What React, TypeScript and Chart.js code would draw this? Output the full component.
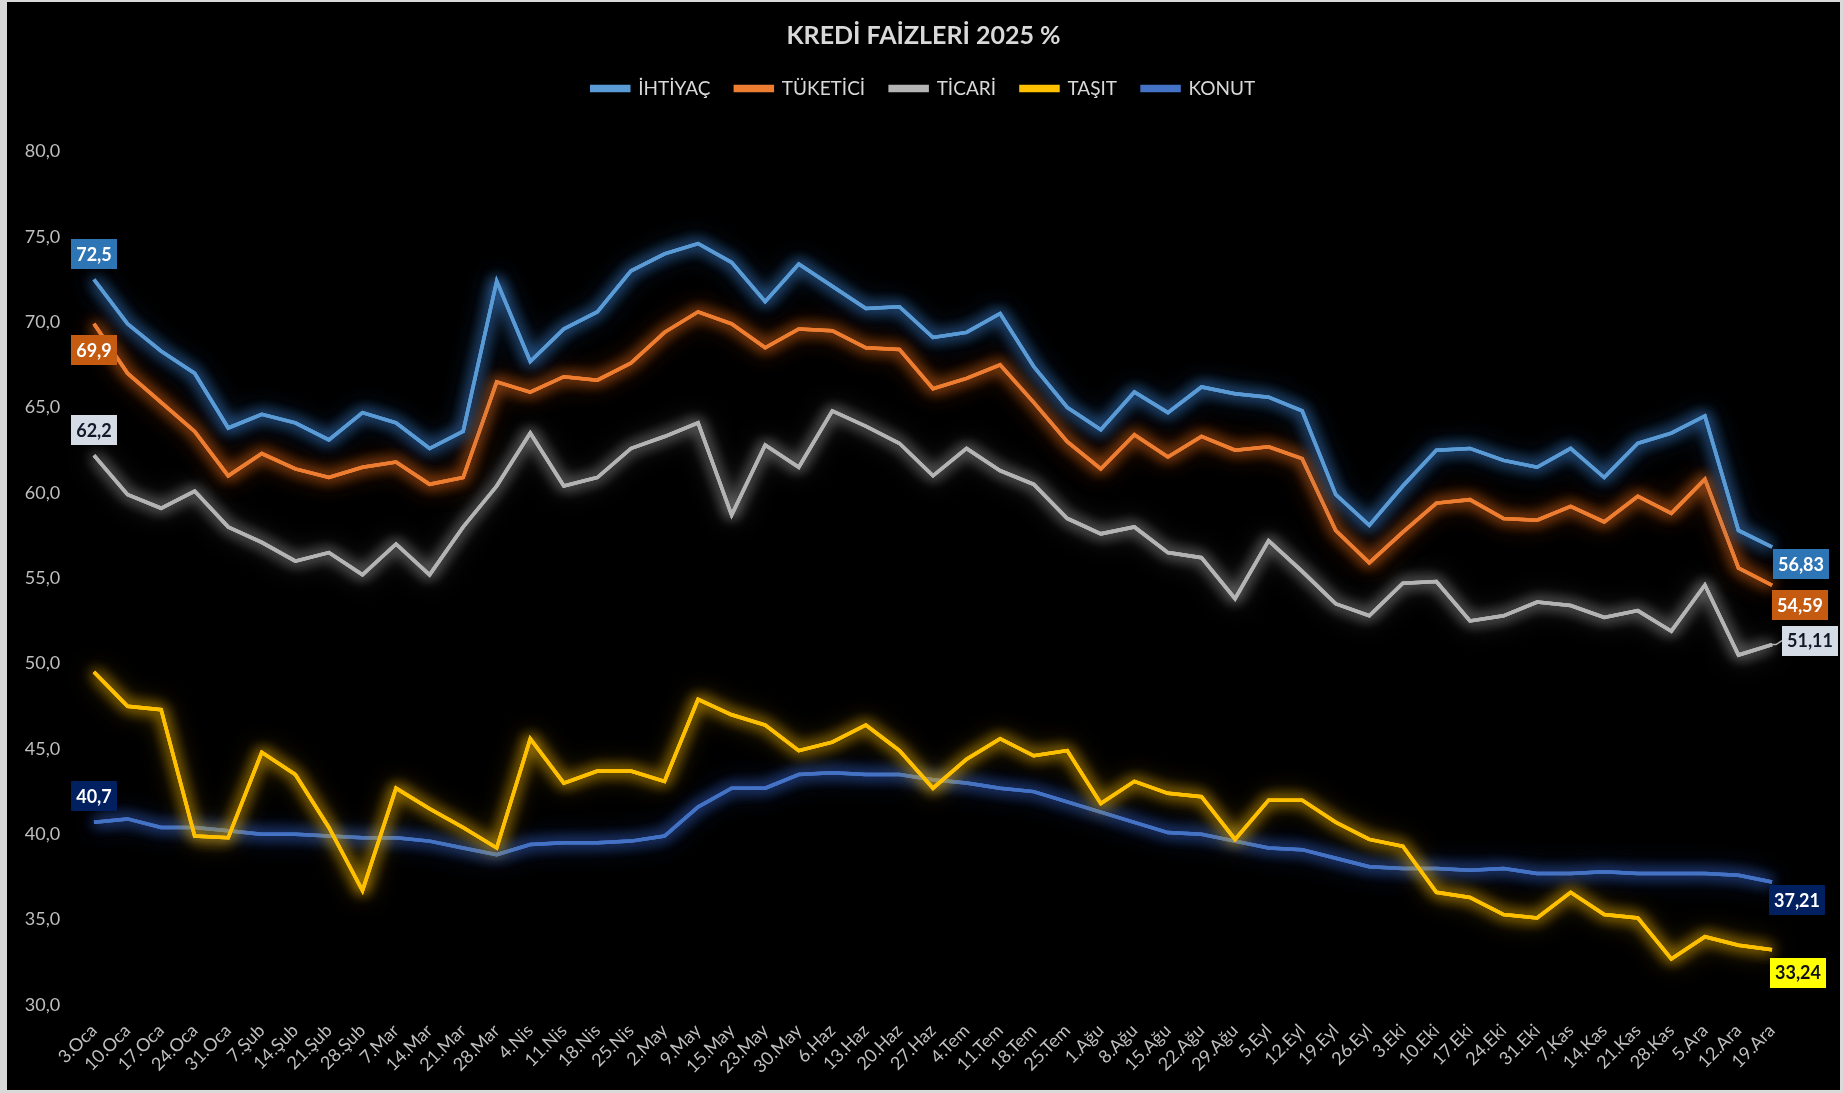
import { useEffect, useRef } from 'react';
import { Chart, registerables } from 'chart.js';

Chart.register(...registerables);

// ---------- DATA ----------
const categories = [
  '3.Oca', '10.Oca', '17.Oca', '24.Oca', '31.Oca', '7.Şub', '14.Şub', '21.Şub', '28.Şub',
  '7.Mar', '14.Mar', '21.Mar', '28.Mar', '4.Nis', '11.Nis', '18.Nis', '25.Nis', '2.May',
  '9.May', '15.May', '23.May', '30.May', '6.Haz', '13.Haz', '20.Haz', '27.Haz', '4.Tem',
  '11.Tem', '18.Tem', '25.Tem', '1.Ağu', '8.Ağu', '15.Ağu', '22.Ağu', '29.Ağu', '5.Eyl',
  '12.Eyl', '19.Eyl', '26.Eyl', '3.Eki', '10.Eki', '17.Eki', '24.Eki', '31.Eki', '7.Kas',
  '14.Kas', '21.Kas', '28.Kas', '5.Ara', '12.Ara', '19.Ara',
];

const ihtiyac = [
  72.5, 69.9, 68.3, 67.0, 63.8, 64.6, 64.1, 63.1, 64.7, 64.1, 62.6, 63.6, 72.4, 67.7, 69.6,
  70.6, 73.0, 74.0, 74.6, 73.5, 71.2, 73.4, 72.1, 70.8, 70.9, 69.1, 69.4, 70.5, 67.4, 65.0,
  63.7, 65.9, 64.7, 66.2, 65.8, 65.6, 64.8, 59.9, 58.1, 60.4, 62.5, 62.6, 61.9, 61.5, 62.6,
  60.9, 62.9, 63.5, 64.5, 57.8, 56.83,
];

const tuketici = [
  69.9, 67.0, 65.3, 63.6, 61.0, 62.3, 61.4, 60.9, 61.5, 61.8, 60.5, 60.9, 66.5, 65.9, 66.8,
  66.6, 67.6, 69.4, 70.6, 69.9, 68.5, 69.6, 69.5, 68.5, 68.4, 66.1, 66.7, 67.5, 65.3, 63.0,
  61.4, 63.4, 62.1, 63.3, 62.5, 62.7, 62.0, 57.8, 55.9, 57.7, 59.4, 59.6, 58.5, 58.4, 59.2,
  58.3, 59.8, 58.8, 60.8, 55.6, 54.59,
];

const ticari = [
  62.2, 59.9, 59.1, 60.1, 58.0, 57.1, 56.0, 56.5, 55.2, 57.0, 55.2, 58.0, 60.4, 63.5, 60.4,
  60.9, 62.6, 63.3, 64.1, 58.7, 62.8, 61.5, 64.8, 63.9, 62.9, 61.0, 62.6, 61.3, 60.5, 58.5,
  57.6, 58.0, 56.5, 56.2, 53.8, 57.2, 55.4, 53.5, 52.8, 54.7, 54.8, 52.5, 52.8, 53.6, 53.4,
  52.7, 53.1, 51.9, 54.6, 50.5, 51.11,
];

const tasit = [
  49.5, 47.5, 47.3, 39.9, 39.8, 44.8, 43.5, 40.4, 36.7, 42.7, 41.5, 40.4, 39.2, 45.6, 43.0,
  43.7, 43.7, 43.1, 47.9, 47.0, 46.4, 44.9, 45.4, 46.4, 44.9, 42.7, 44.4, 45.6, 44.6, 44.9,
  41.8, 43.1, 42.4, 42.2, 39.7, 42.0, 42.0, 40.7, 39.7, 39.3, 36.6, 36.3, 35.3, 35.1, 36.6,
  35.3, 35.1, 32.7, 34.0, 33.5, 33.24,
];

const konut = [
  40.7, 40.9, 40.4, 40.4, 40.2, 40.0, 40.0, 39.9, 39.8, 39.8, 39.6, 39.2, 38.8, 39.4, 39.5,
  39.5, 39.6, 39.9, 41.6, 42.7, 42.7, 43.5, 43.6, 43.5, 43.5, 43.2, 43.0, 42.7, 42.5, 41.9,
  41.3, 40.7, 40.1, 40.0, 39.6, 39.2, 39.1, 38.6, 38.1, 38.0, 38.0, 37.9, 38.0, 37.7, 37.7,
  37.8, 37.7, 37.7, 37.7, 37.6, 37.21,
];

const seriesNames = ['İHTİYAÇ', 'TÜKETİCİ', 'TİCARİ', 'TAŞIT', 'KONUT'];
const seriesValues = [ihtiyac, tuketici, ticari, tasit, konut];
const yTickValues = [30, 35, 40, 45, 50, 55, 60, 65, 70, 75, 80];
const chartTitle = 'KREDİ FAİZLERİ 2025 %';

// ---------- STYLE ----------
const lineColors = ['#5B9BD5', '#ED7D31', '#B4B4B4', '#FFC000', '#4472C4'];
const glowColors = [
  'rgba(60,130,210,0.95)',
  'rgba(225,105,25,0.95)',
  'rgba(160,160,160,0.85)',
  'rgba(235,175,0,0.95)',
  'rgba(55,100,200,0.95)',
];
type LabelPos = { mode: 'center' | 'left'; dx: number; dy: number; leader?: boolean } | null;
const labelStyles: { bg: string; fg: string; first: LabelPos; last: LabelPos }[] = [
  { bg: '#2E75B6', fg: '#FFFFFF', first: { mode: 'center', dx: 0, dy: -25 }, last: { mode: 'left', dx: 1, dy: 17 } },
  { bg: '#C55A11', fg: '#FFFFFF', first: { mode: 'center', dx: 0, dy: 26 }, last: { mode: 'left', dx: 0, dy: 20 } },
  { bg: '#D6DCE5', fg: '#111827', first: { mode: 'center', dx: 0, dy: -25 }, last: { mode: 'left', dx: 10, dy: -4, leader: true } },
  { bg: '#FFFF00', fg: '#111111', first: null, last: { mode: 'left', dx: -2, dy: 23 } },
  { bg: '#002060', fg: '#FFFFFF', first: { mode: 'center', dx: 0, dy: -26 }, last: { mode: 'left', dx: -3, dy: 18 } },
];

const FONT = 'Lato';
const fmtLabel = (v: number) => String(v).replace('.', ',');

const glowPlugin = {
  id: 'glow',
  beforeDatasetDraw(chart: any, args: any) {
    const ctx = chart.ctx;
    const meta = chart.getDatasetMeta(args.index);
    ctx.save();
    ctx.shadowColor = glowColors[args.index];
    ctx.shadowOffsetX = 0;
    ctx.shadowOffsetY = 0;
    // extra passes to strengthen the glow
    ctx.shadowBlur = 24;
    meta.dataset.draw(ctx, chart.chartArea);
    ctx.shadowBlur = 14;
    meta.dataset.draw(ctx, chart.chartArea);
  },
  afterDatasetDraw(chart: any) {
    chart.ctx.restore();
  },
};

const dataLabelPlugin = {
  id: 'endLabels',
  afterDatasetsDraw(chart: any) {
    const ctx = chart.ctx;
    ctx.save();
    ctx.font = `bold 18px ${FONT}`;
    ctx.textBaseline = 'middle';
    ctx.textAlign = 'center';
    labelStyles.forEach((st, di) => {
      const meta = chart.getDatasetMeta(di);
      const values = seriesValues[di];
      const draw = (pos: LabelPos, idx: number) => {
        if (!pos) return;
        const pt = meta.data[idx];
        const text = fmtLabel(values[idx]);
        const w = ctx.measureText(text).width + 10;
        const h = 30;
        const cx = pos.mode === 'center' ? pt.x + pos.dx : pt.x + pos.dx + w / 2;
        const cy = pt.y + pos.dy;
        if (pos.leader) {
          ctx.strokeStyle = lineColors[di];
          ctx.lineWidth = 1.5;
          ctx.beginPath();
          ctx.moveTo(pt.x, pt.y);
          ctx.lineTo(pt.x + 4, pt.y);
          ctx.lineTo(cx - w / 2, cy);
          ctx.stroke();
        }
        ctx.fillStyle = st.bg;
        ctx.fillRect(Math.round(cx - w / 2), Math.round(cy - h / 2), Math.round(w), h);
        ctx.fillStyle = st.fg;
        ctx.fillText(text, cx, cy + 1);
      };
      draw(st.first, 0);
      draw(st.last, values.length - 1);
    });
    ctx.restore();
  },
};

export default function App() {
  const ref = useRef<HTMLCanvasElement | null>(null);

  useEffect(() => {
    if (!ref.current) return;
    Chart.defaults.font.family = FONT;
    const chart = new Chart(ref.current, {
      type: 'line',
      data: {
        labels: categories,
        datasets: seriesNames.map((name, i) => ({
          label: name,
          data: seriesValues[i],
          borderColor: lineColors[i],
          backgroundColor: lineColors[i],
          borderWidth: 3.5,
          pointRadius: 0,
          pointHoverRadius: 0,
          tension: 0,
          fill: false,
        })),
      },
      options: {
        responsive: false,
        animation: false,
        layout: { padding: 0 },
        plugins: {
          title: {
            display: true,
            text: chartTitle,
            color: '#D9D9D9',
            font: { family: FONT, size: 25, weight: 'bold' },
            padding: { top: 19, bottom: 3 },
          },
          legend: {
            display: true,
            position: 'top',
            labels: {
              color: '#D9D9D9',
              font: { family: FONT, size: 19 },
              boxWidth: 37,
              boxHeight: 4,
              padding: 25,
            },
          },
          tooltip: { enabled: false },
        },
        scales: {
          x: {
            type: 'category',
            position: 'bottom',
            offset: true,
            grid: { display: false, drawTicks: false },
            border: { display: false },
            ticks: {
              autoSkip: false,
              minRotation: 45,
              maxRotation: 45,
              color: '#BFBFBF',
              font: { family: FONT, size: 18 },
              padding: 15,
            },
            afterFit: (s: any) => { s.height = 85; },
          },
          xTop: {
            type: 'category',
            position: 'top',
            offset: true,
            display: true,
            grid: { display: false, drawTicks: false },
            border: { display: false },
            ticks: { display: false },
            afterFit: (s: any) => { s.height = 43.4; },
          },
          y: {
            type: 'linear',
            min: 30,
            max: 80,
            grid: { display: false, drawTicks: false },
            border: { display: false },
            afterBuildTicks: (s: any) => { s.ticks = yTickValues.map((v) => ({ value: v })); },
            ticks: {
              color: '#BFBFBF',
              font: { family: FONT, size: 18 },
              padding: 17,
              callback: (v: any) => Number(v).toFixed(1).replace('.', ','),
            },
            afterFit: (s: any) => { s.width = 70.2; },
          },
          yRight: {
            type: 'linear',
            position: 'right',
            display: true,
            min: 30,
            max: 80,
            grid: { display: false, drawTicks: false },
            border: { display: false },
            ticks: { display: false },
            afterFit: (s: any) => { s.width = 51.2; },
          },
        },
      },
      plugins: [glowPlugin, dataLabelPlugin],
    } as any);
    return () => chart.destroy();
  }, []);

  return (
    <div style={{ position: 'fixed', left: 0, top: 0, width: 1843, height: 1093, background: '#D9D9D9' }}>
      <div style={{ position: 'absolute', left: 7, top: 2, width: 1833, height: 1088, background: '#000000' }}>
        <canvas ref={ref} width={1833} height={1088} style={{ display: 'block', width: 1833, height: 1088 }} />
      </div>
    </div>
  );
}
